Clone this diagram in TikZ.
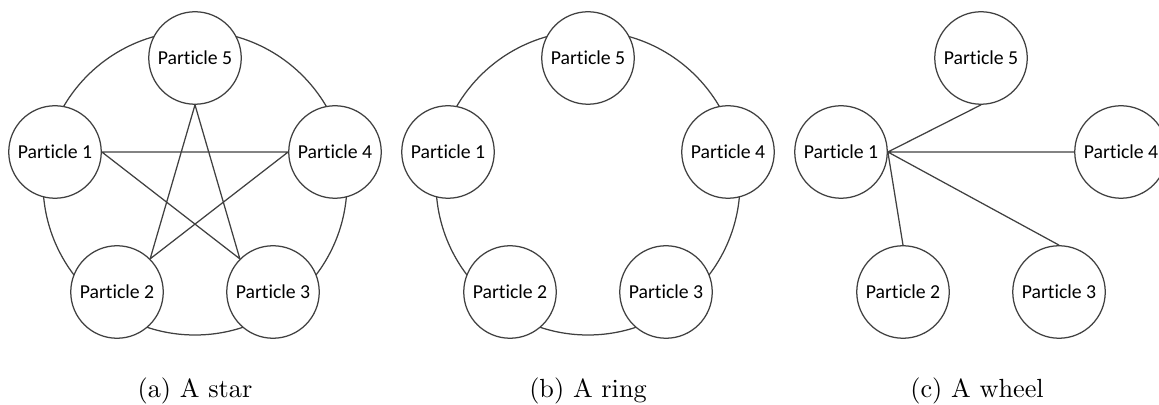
\documentclass[tikz,border=0pt]{standalone}
\usepackage{fontspec}
\newfontfamily\particlefont[Ligatures=NoCommon]{Carlito}
\usetikzlibrary{positioning}
\definecolor{edgegray}{RGB}{64,64,64}

\begin{document}
\begin{tikzpicture}[x=0.4pt,y=-0.4pt,line cap=round,line join=round,
  particle/.style={circle,draw=edgegray,line width=0.5pt,fill=white,
   minimum size=37pt,inner sep=0pt,font=\particlefont\fontsize{7.9}{9}\selectfont},
  link/.style={draw=edgegray,line width=0.5pt},
  subcap/.style={font=\fontsize{10.5}{12}\selectfont}]
 \useasboundingbox (0,0) rectangle (1159,405);
 % (a) star
 \coordinate (starmid) at (195,183);
 \draw[link] (starmid) circle[radius=152];
 \node[particle] (star5) at (195,58) {Particle 5};
 \node[particle] (star1) at (55,152) {Particle 1};
 \node[particle] (star4) at (335,152) {Particle 4};
 \node[particle] (star2) at (117,292) {Particle 2};
 \node[particle] (star3) at (273,292) {Particle 3};
 \draw[link] (star1.east)--(star4.west) (star1.east)--(star3.north west)
  (star5.south)--(star2.north east) (star5.south)--(star3.north west)
  (star4.west)--(star2.north east);
 \node[subcap] (capa) at (195,391) {(a) A star};
 % (b) ring
 \coordinate (ringmid) at (588,183);
 \draw[link] (ringmid) circle[radius=152];
 \node[particle] (ring5) at (588,58) {Particle 5};
 \node[particle] (ring1) at (448,152) {Particle 1};
 \node[particle] (ring4) at (728,152) {Particle 4};
 \node[particle] (ring2) at (510,292) {Particle 2};
 \node[particle] (ring3) at (666,292) {Particle 3};
 \node[subcap] (capb) at (588,391) {(b) A ring};
 % (c) wheel
 \node[particle] (wheel5) at (981,58) {Particle 5};
 \node[particle] (wheel1) at (841,152) {Particle 1};
 \node[particle] (wheel4) at (1121,152) {Particle 4};
 \node[particle] (wheel2) at (903,292) {Particle 2};
 \node[particle] (wheel3) at (1059,292) {Particle 3};
 \draw[link] (wheel1.east)--(wheel5.south) (wheel1.east)--(wheel4.west)
  (wheel1.east)--(wheel3.north) (wheel1.east)--(wheel2.north);
 \node[subcap] (capc) at (977,391) {(c) A wheel};
\end{tikzpicture}
\end{document}
